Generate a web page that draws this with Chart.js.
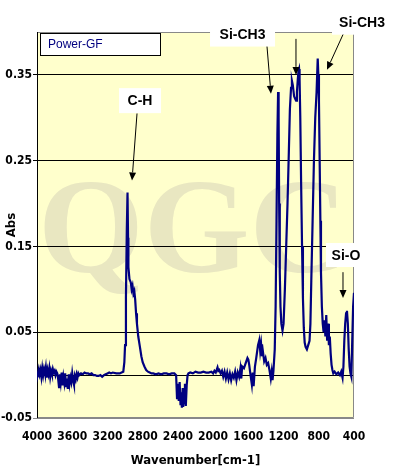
<!DOCTYPE html>
<html>
<head>
<meta charset="utf-8">
<script src="https://cdn.jsdelivr.net/npm/chart.js@4.4.1/dist/chart.umd.min.js"></script>
<style>
html,body{margin:0;padding:0;background:#fff;}
canvas{display:block;}
</style>
</head>
<body>
<canvas id="c" width="396" height="471"></canvas>
<script>
// ---- data ----
const wavenumbers = [
4000,3990,3980,3970,3960,3950,3940,3930,3920,3910,3900,3890,3880,3870,3860,3850,3840,3830,3820,3810,3800,3790,3780,3770,
3760,3750,3740,3730,3720,3710,3700,3690,3680,3670,3660,3650,3640,3630,3620,3610,3600,3590,3580,3570,3560,3550,3540,3530,3520,
3500,3480,3460,3440,3420,3400,3380,3360,3340,3320,3300,3280,3260,3240,3220,3200,3180,3160,3140,3100,3060,3040,3020,3008,3000,
2990,2980,2972,2966,2962,2950,2935,2925,2915,2905,2895,2885,2875,2865,2850,2830,2815,2800,2780,2760,2740,2720,2700,2680,2650,
2620,2590,2560,2530,2500,2470,2440,2420,2410,2400,2390,2380,2370,2360,2355,2345,2340,2330,2320,2310,2300,2290,2280,2260,2230,
2200,2170,2140,2110,2080,2050,2020,2000,1985,1970,1950,1940,1930,1915,1900,1885,1870,1855,1840,1825,1810,1795,1780,1765,1750,
1735,1720,1705,1690,1680,1670,1650,1630,1610,1600,1590,1575,1560,1550,1540,1525,1510,1490,1475,1465,1455,1445,1435,1420,1405,
1390,1375,1360,1345,1335,1325,1315,1300,1290,1280,1270,1262,1256,1250,1243,1235,1225,1212,1200,1185,1170,1155,1140,1128,1115,
1105,1095,1080,1068,1058,1048,1038,1030,1024,1018,1010,1000,990,980,970,960,950,935,920,905,895,885,870,855,840,825,812,805,
798,790,782,775,765,755,745,735,725,715,705,695,685,675,665,655,645,635,620,600,580,560,545,530,520,510,500,490,480,470,460,
450,440,430,420,410,400
];
const absorbance = [
0.004,0.002,0.007,0.001,0.006,-0.002,0.008,0.000,0.007,0.002,0.009,-0.003,0.006,0.001,0.008,-0.002,0.005,0.001,0.007,0.003,0.005,0.000,0.004,0.002,
-0.004,-0.014,0.001,-0.008,0.003,-0.012,-0.002,-0.009,0.002,-0.013,-0.004,-0.016,0.001,-0.010,-0.003,-0.008,0.002,-0.006,-0.011,-0.001,-0.005,0.001,-0.003,0.002,0.000,
0.002,0.001,0.003,0.002,0.002,0.001,0.002,0.000,0.000,-0.001,-0.001,0.000,-0.002,0.000,0.001,0.002,0.003,0.002,0.003,0.002,0.002,0.003,0.004,0.015,0.035,
0.090,0.170,0.213,0.160,0.126,0.112,0.108,0.100,0.104,0.095,0.098,0.088,0.072,0.060,0.045,0.032,0.022,0.015,0.010,0.006,0.004,0.003,0.002,0.002,0.001,
0.002,0.001,0.002,0.002,0.001,0.002,0.002,0.000,-0.027,-0.010,-0.030,-0.008,-0.035,-0.020,-0.038,-0.015,-0.037,-0.025,-0.010,-0.036,-0.012,0.000,0.002,0.003,0.002,
0.004,0.003,0.003,0.004,0.003,0.003,0.004,0.002,0.005,0.003,0.009,0.005,0.006,0.002,0.005,-0.002,0.004,-0.004,0.003,-0.005,0.002,-0.006,0.001,-0.003,0.004,
-0.006,0.003,-0.002,0.008,-0.004,0.010,0.008,0.014,0.020,0.018,0.012,0.000,-0.011,0.003,-0.013,0.010,0.020,0.035,0.041,0.028,0.036,0.022,0.028,0.016,0.020,
0.012,0.014,0.006,-0.004,0.004,-0.006,0.005,0.030,0.080,0.180,0.280,0.330,0.300,0.200,0.120,0.080,0.060,0.052,0.060,0.100,0.150,0.200,0.260,0.310,0.335,
0.343,0.338,0.325,0.322,0.320,0.330,0.345,0.355,0.357,0.345,0.300,0.220,0.150,0.090,0.055,0.038,0.033,0.030,0.035,0.040,0.060,0.110,0.180,0.250,0.300,0.330,0.369,0.350,
0.320,0.250,0.180,0.120,0.080,0.060,0.050,0.064,0.045,0.070,0.040,0.060,0.035,0.045,0.025,0.012,0.006,0.002,0.004,0.001,0.003,0.000,0.004,-0.003,0.010,0.040,0.060,0.072,0.075,0.060,0.030,
0.010,0.002,-0.002,0.040,0.080,0.096
];
const xTickValues = [4000,3600,3200,2800,2400,2000,1600,1200,800,400];
const yTickValues = [-0.05,0.05,0.15,0.25,0.35];
const yTickLabels = ['-0.05','0.05','0.15','0.25','0.35'];
const seriesName = 'Power-GF';
const xTitle = 'Wavenumber[cm-1]';
const yTitle = 'Abs';
const watermarkText = 'QGC';
// annotation texts, with label centres / arrow start / arrow tip in data units (wavenumber, absorbance)
const annotationTexts = ['C-H','Si-CH3','','Si-CH3','Si-O'];
const annotationLabelAt = [[2830,0.320],[1666,0.397],null,[309,0.412],[491,0.140]];
const annotationArrowFrom = [[2864,0.305],[1388,0.383],[1059,0.392],[525,0.397],[525,0.120]];
const annotationArrowTo = [[2921,0.227],[1343,0.328],[1059,0.350],[707,0.356],[525,0.090]];

// ---- styles ----
const annotationBox = [[42,25],[65,24],null,[60,26],[40,24]];
const NARROW = "'Liberation Sans Narrow','DejaVu Sans Condensed','Liberation Sans',Arial,sans-serif";
const SANS = "'Liberation Sans',Arial,sans-serif";

const points = wavenumbers.map((w,i)=>({x:w,y:absorbance[i]}));

const decorPlugin = {
  id:'decor',
  beforeDraw(chart){
    const {ctx, chartArea:a} = chart;
    ctx.save();
    ctx.fillStyle = '#FFFFCC';
    ctx.fillRect(a.left, a.top, a.right-a.left, a.bottom-a.top);
    // watermark
    ctx.beginPath(); ctx.rect(a.left, a.top, a.right-a.left, a.bottom-a.top); ctx.clip();
    ctx.fillStyle = '#E9E7C1';
    ctx.font = "bold 136px 'Liberation Serif','DejaVu Serif',serif";
    ctx.textBaseline = 'alphabetic';
    ctx.textAlign = 'left';
    ctx.fillText(watermarkText, a.left+1, a.top+240);
    ctx.restore();
  },
  beforeDatasetsDraw(chart){
    const {ctx, chartArea:a, scales:{y}} = chart;
    ctx.save();
    // zero line
    const y0 = Math.round(y.getPixelForValue(0))+0.5;
    ctx.strokeStyle = '#000'; ctx.lineWidth = 1;
    ctx.beginPath(); ctx.moveTo(a.left, y0); ctx.lineTo(a.right, y0); ctx.stroke();
    // frame
    ctx.strokeStyle = '#888';
    ctx.beginPath();
    ctx.moveTo(a.left, a.top+0.5); ctx.lineTo(a.right-0.5, a.top+0.5);
    ctx.lineTo(a.right-0.5, a.bottom-0.5); ctx.lineTo(a.left, a.bottom-0.5);
    ctx.stroke();
    ctx.strokeStyle = '#000';
    ctx.beginPath(); ctx.moveTo(a.left+0.5, a.top); ctx.lineTo(a.left+0.5, a.bottom); ctx.stroke();
    ctx.restore();
  },
  afterDraw(chart){
    const {ctx, chartArea:a, scales:{x,y}} = chart;
    ctx.save();
    // legend box
    const lx = a.left+3, ly = a.top+1, lw = 121, lh = 23;
    ctx.fillStyle = '#fff'; ctx.fillRect(lx, ly, lw, lh);
    ctx.strokeStyle = '#000'; ctx.lineWidth = 1;
    ctx.strokeRect(lx+0.5, ly+0.5, lw-1, lh-1);
    ctx.fillStyle = '#000080';
    ctx.font = '12px '+SANS;
    ctx.textBaseline = 'middle'; ctx.textAlign = 'left';
    ctx.fillText(chart.data.datasets[0].label, lx+8, ly+lh/2+0.5);
    // annotations
    ctx.font = 'bold 14px '+SANS;
    ctx.textAlign = 'center';
    annotationTexts.forEach((t,i)=>{
      const from = annotationArrowFrom[i], to = annotationArrowTo[i];
      const x1 = x.getPixelForValue(from[0]), y1 = y.getPixelForValue(from[1]);
      const x2 = x.getPixelForValue(to[0]), y2 = y.getPixelForValue(to[1]);
      if (annotationLabelAt[i]) {
        const cx = x.getPixelForValue(annotationLabelAt[i][0]);
        const cy = y.getPixelForValue(annotationLabelAt[i][1]);
        const [bw,bh] = annotationBox[i];
        ctx.fillStyle = '#fff';
        ctx.fillRect(cx-bw/2, cy-bh/2, bw, bh);
        ctx.fillStyle = '#000';
        ctx.fillText(t, cx, cy+1);
      }
      const ang = Math.atan2(y2-y1, x2-x1);
      const hl = 8, hw = 3.5;
      const bx = x2 - hl*Math.cos(ang), by = y2 - hl*Math.sin(ang);
      ctx.strokeStyle = '#000'; ctx.lineWidth = 1;
      ctx.beginPath(); ctx.moveTo(x1,y1); ctx.lineTo(bx,by); ctx.stroke();
      ctx.fillStyle = '#000';
      ctx.beginPath();
      ctx.moveTo(x2,y2);
      ctx.lineTo(bx + hw*Math.sin(ang), by - hw*Math.cos(ang));
      ctx.lineTo(bx - hw*Math.sin(ang), by + hw*Math.cos(ang));
      ctx.closePath(); ctx.fill();
    });
    ctx.restore();
  }
};

new Chart(document.getElementById('c'), {
  type:'line',
  data:{ datasets:[{
    label: seriesName,
    data: points,
    borderColor:'#000080',
    borderWidth:2.2,
    pointRadius:0,
    tension:0,
    fill:false
  }]},
  options:{
    responsive:false,
    animation:false,
    devicePixelRatio:1,
    layout:{padding:{top:32,right:42,left:0,bottom:0}},
    plugins:{legend:{display:false}, tooltip:{enabled:false}},
    scales:{
      x:{
        type:'linear', reverse:true, min:400, max:4000,
        afterBuildTicks(s){ s.ticks = xTickValues.map(v=>({value:v})); },
        afterFit(s){ s.height = 53; },
        grid:{display:false, drawTicks:false},
        border:{display:false},
        ticks:{ callback:v=>String(v), color:'#000', padding:12, maxRotation:0, autoSkip:false,
          font:{family:NARROW, size:12, weight:'bold'} },
        title:{display:true, text:xTitle, color:'#000', padding:{top:0,bottom:3},
          font:{family:NARROW, size:13, weight:'bold'}}
      },
      y:{
        type:'linear', min:-0.05, max:0.4,
        afterBuildTicks(s){ s.ticks = yTickValues.map(v=>({value:v})); },
        afterFit(s){ s.width = 37; },
        grid:{ color:(c)=> (c.tick && c.tick.value < 0) ? '#888' : '#000', lineWidth:1, tickLength:4, drawTicks:true },
        border:{display:false},
        ticks:{ callback:(v)=>{ const k = yTickValues.findIndex(t=>Math.abs(t-v)<1e-9); return k>=0 ? yTickLabels[k] : ''; },
          color:'#000', padding:1, font:{family:NARROW, size:12, weight:'bold'} },
        title:{display:true, text:yTitle, color:'#000', padding:{top:4,bottom:0},
          font:{family:NARROW, size:13, weight:'bold'}}
      }
    }
  },
  plugins:[decorPlugin]
});
</script>
</body>
</html>
